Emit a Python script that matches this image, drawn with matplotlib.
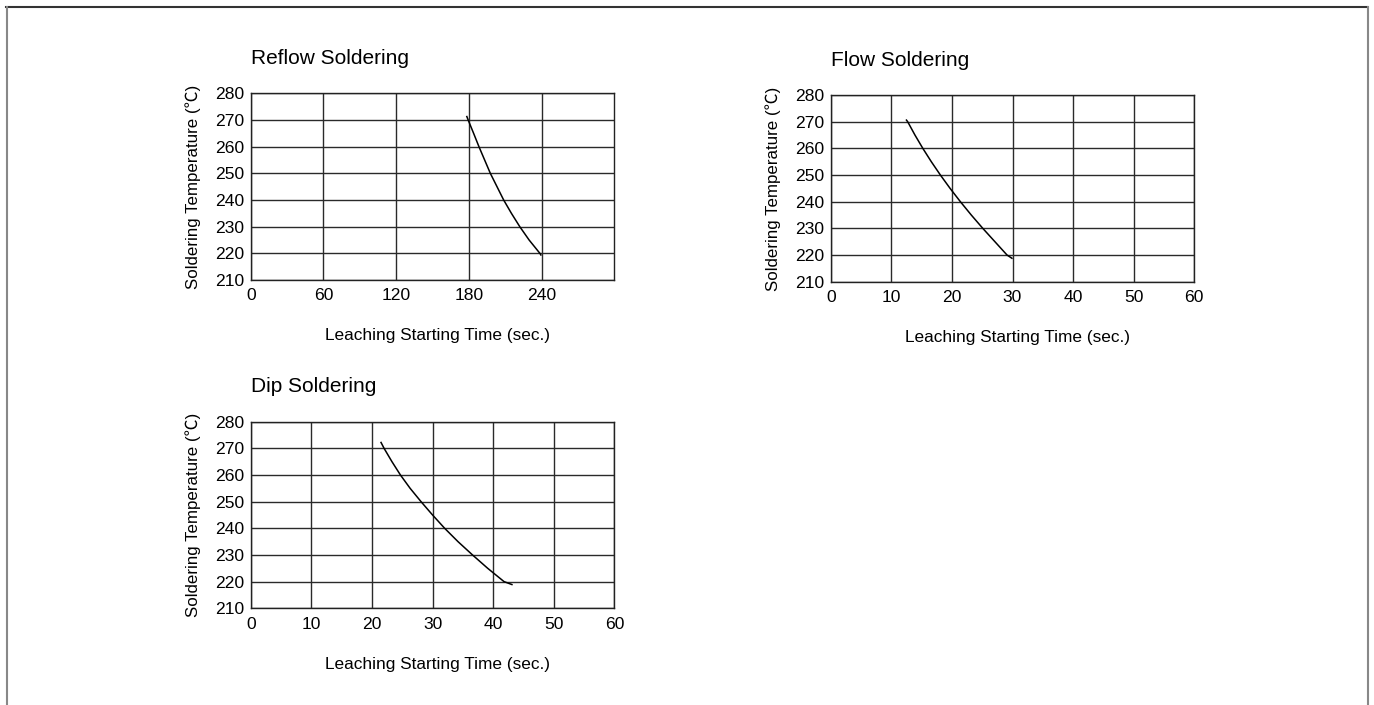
import matplotlib
matplotlib.use('Agg')
import matplotlib.pyplot as plt
from matplotlib.lines import Line2D

plt.rcParams['font.family'] = ['Liberation Sans', 'Noto Sans CJK JP', 'DejaVu Sans']

# curve data (time in sec, temperature in degC)
reflow_time = [178.3, 179.4, 183.9, 188.3, 193.0, 197.7, 203.2, 208.7, 215.1, 222.0, 229.7, 238.6, 239.4]
reflow_temp = [271.3, 270, 265, 260, 255, 250, 245, 240, 235, 230, 225, 220, 219.4]

flow_time = [12.5, 12.7, 13.9, 15.2, 16.6, 18.1, 19.7, 21.4, 23.2, 25.1, 27.1, 29.1, 29.9]
flow_temp = [270.6, 270, 265, 260, 255, 250, 245, 240, 235, 230, 225, 220, 218.8]

dip_time = [21.5, 22.0, 23.3, 24.7, 26.3, 28.1, 30.0, 32.0, 34.2, 36.6, 39.1, 41.8, 43.1]
dip_temp = [272.2, 270, 265, 260, 255, 250, 245, 240, 235, 230, 225, 220, 218.9]

reflow_xticks = [0, 60, 120, 180, 240]
sec_xticks = [0, 10, 20, 30, 40, 50, 60]
temp_ticks = [210, 220, 230, 240, 250, 260, 270, 280]

fig = plt.figure(figsize=(13.74, 7.05), dpi=100)

# outer frame (open at the bottom)
fig.add_artist(Line2D([0.0045, 0.995], [0.990, 0.990], color='#333333', lw=1.5, transform=fig.transFigure))
fig.add_artist(Line2D([0.005, 0.005], [0.990, 0.0], color='#888888', lw=1.5, transform=fig.transFigure))
fig.add_artist(Line2D([0.9954, 0.9954], [0.990, 0.0], color='#888888', lw=1.5, transform=fig.transFigure))


def make_panel(rect, title, t, temp, xticks, xmax):
    ax = fig.add_axes(rect)
    ax.plot(t, temp, color='black', lw=1.1)
    ax.set_xlim(0, xmax)
    ax.set_ylim(210, 280)
    ax.set_xticks(xticks)
    ax.set_yticks(temp_ticks)
    ax.grid(True, color='#2a2a2a', lw=1)
    ax.set_axisbelow(True)
    ax.tick_params(length=0, labelsize=12.6, colors='black')
    ax.tick_params(axis='x', pad=6)
    ax.tick_params(axis='y', pad=5)
    for s in ax.spines.values():
        s.set_color('#222222')
        s.set_linewidth(1)
    ax.set_title(title, loc='left', fontsize=15, pad=21)
    ax.set_xlabel('Leaching Starting Time (sec.)', fontsize=12.4, labelpad=18)
    ax.xaxis.label.set_x(0.515)
    ax.set_ylabel('Soldering Temperature (℃)', fontsize=12.2, labelpad=10)
    return ax


make_panel([0.1825, 0.6028, 0.2646, 0.2648], 'Reflow Soldering', reflow_time, reflow_temp, reflow_xticks, 300)
make_panel([0.6046, 0.6004, 0.2646, 0.2648], 'Flow Soldering', flow_time, flow_temp, sec_xticks, 60)
make_panel([0.1825, 0.1372, 0.2646, 0.2647], 'Dip Soldering', dip_time, dip_temp, sec_xticks, 60)

fig.savefig('out.png', dpi=100)
